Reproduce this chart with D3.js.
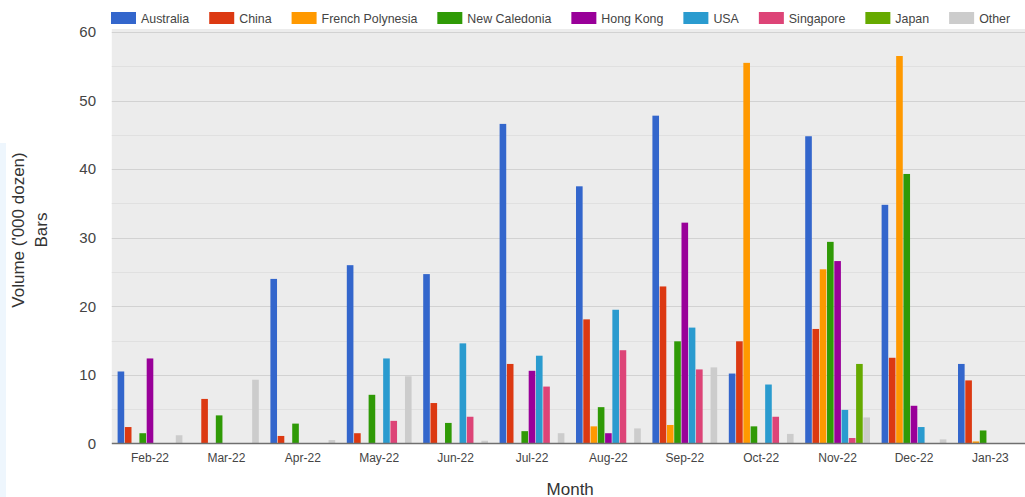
<!DOCTYPE html>
<html>
<head>
<meta charset="utf-8">
<script src="https://cdn.jsdelivr.net/npm/d3@7"></script>
<style>
  html, body { margin: 0; padding: 0; background: #ffffff; }
  svg { display: block; font-family: "Liberation Sans", Arial, sans-serif; }
</style>
</head>
<body>
<svg id="chart" width="1025" height="497"></svg>
<script>
// Monthly export volume by destination ('000 dozen)
const months = ["Feb-22", "Mar-22", "Apr-22", "May-22", "Jun-22", "Jul-22",
                "Aug-22", "Sep-22", "Oct-22", "Nov-22", "Dec-22", "Jan-23"];

const seriesNames = ["Australia", "China", "French Polynesia", "New Caledonia",
                     "Hong Kong", "USA", "Singapore", "Japan", "Other"];

const seriesColors = ["#3366cc", "#dc3912", "#ff9900", "#2f9a06",
                      "#990099", "#2a9bcf", "#dd4477", "#66aa00", "#cccccc"];

const australia      = [10.5, 0,   24.0, 26.0, 24.7, 46.6, 37.5, 47.8, 10.2, 44.8, 34.8, 11.6];
const china          = [2.4,  6.5, 1.1,  1.5,  5.9,  11.6, 18.1, 22.9, 14.9, 16.7, 12.5, 9.2];
const frenchPolynesia= [0,    0,   0,    0,    0,    0,    2.5,  2.7,  55.5, 25.4, 56.5, 0.3];
const newCaledonia   = [1.5,  4.1, 2.9,  7.1,  3.0,  1.8,  5.3,  14.9, 2.5,  29.4, 39.3, 1.9];
const hongKong       = [12.4, 0,   0,    0,    0,    10.6, 1.5,  32.2, 0,    26.6, 5.5,  0];
const usa            = [0,    0,   0,    12.4, 14.6, 12.8, 19.5, 16.9, 8.6,  4.9,  2.4,  0];
const singapore      = [0,    0,   0,    3.3,  3.9,  8.3,  13.6, 10.8, 3.9,  0.8,  0,    0];
const japan          = [0,    0,   0,    0,    0,    0,    0,    0,    0,    11.6, 0,    0];
const other          = [1.2,  9.3, 0.5,  9.8,  0.4,  1.5,  2.2,  11.1, 1.4,  3.8,  0.6,  0];

const yTicks = [0, 10, 20, 30, 40, 50, 60];
const yMinorTicks = [5, 15, 25, 35, 45, 55];

const seriesValues = [australia, china, frenchPolynesia, newCaledonia,
                      hongKong, usa, singapore, japan, other];

const svg = d3.select("#chart");

// plot frame
const plotLeft = 111.8, plotRight = 1028.6, plotTop = 29, plotBottom = 443.5;

// faint side panel on the far left
svg.append("rect")
  .attr("x", 0).attr("y", 143).attr("width", 6).attr("height", 354)
  .attr("fill", "#eef6fd");

const x0 = d3.scaleBand()
  .domain(months)
  .range([plotLeft, plotRight])
  .paddingInner(0.135)
  .paddingOuter(0.0675);

const x1 = d3.scaleBand()
  .domain(seriesNames)
  .range([0, x0.bandwidth()])
  .padding(0.09);

const y = d3.scaleLinear()
  .domain([0, 60])
  .range([plotBottom, 32]);

const color = d3.scaleOrdinal().domain(seriesNames).range(seriesColors);

// background
svg.append("rect")
  .attr("x", plotLeft).attr("y", plotTop)
  .attr("width", plotRight - plotLeft).attr("height", plotBottom - plotTop)
  .attr("fill", "#ececec");

// gridlines
svg.append("g").selectAll("line").data(yMinorTicks).join("line")
  .attr("x1", plotLeft).attr("x2", plotRight)
  .attr("y1", d => Math.round(y(d)) + 0.5).attr("y2", d => Math.round(y(d)) + 0.5)
  .attr("stroke", "#e0e0e0").attr("stroke-width", 1);

svg.append("g").selectAll("line").data(yTicks.filter(d => d > 0)).join("line")
  .attr("x1", plotLeft).attr("x2", plotRight)
  .attr("y1", d => Math.round(y(d)) + 0.5).attr("y2", d => Math.round(y(d)) + 0.5)
  .attr("stroke", "#d2d2d2").attr("stroke-width", 1);

// bars
const rows = months.map((m, i) => ({
  month: m,
  values: seriesNames.map((s, j) => ({ series: s, value: seriesValues[j][i] }))
}));

const groups = svg.append("g").selectAll("g").data(rows).join("g")
  .attr("transform", d => `translate(${x0(d.month)},0)`);

groups.selectAll("rect")
  .data(d => d.values.filter(v => v.value > 0))
  .join("rect")
  .attr("x", d => x1(d.series))
  .attr("width", x1.bandwidth())
  .attr("y", d => y(d.value))
  .attr("height", d => y(0) - y(d.value))
  .attr("fill", d => color(d.series));

// baseline
svg.append("line")
  .attr("x1", plotLeft).attr("x2", plotRight)
  .attr("y1", y(0)).attr("y2", y(0))
  .attr("stroke", "#6f6f6f").attr("stroke-width", 1.6);

// y axis labels
const yAxis = d3.axisLeft(y).tickValues(yTicks).tickSize(0).tickPadding(0);
const yg = svg.append("g").attr("transform", `translate(96,0)`).call(yAxis);
yg.select(".domain").remove();
yg.selectAll("text")
  .attr("font-size", 15).attr("fill", "#444").attr("font-family", "Liberation Sans, Arial, sans-serif");

// x axis labels
const xAxis = d3.axisBottom(x0).tickSize(0).tickPadding(0);
const xg = svg.append("g").attr("transform", `translate(0,${plotBottom})`).call(xAxis);
xg.select(".domain").remove();
xg.selectAll("text")
  .attr("dy", 0).attr("y", 18.5)
  .attr("font-size", 12).attr("fill", "#444").attr("font-family", "Liberation Sans, Arial, sans-serif");

// axis titles
svg.append("text")
  .attr("x", (plotLeft + plotRight) / 2).attr("y", 494.5)
  .attr("text-anchor", "middle")
  .attr("font-size", 17).attr("fill", "#333")
  .text("Month");

const yTitle = svg.append("text")
  .attr("transform", "translate(24,230) rotate(-90)")
  .attr("text-anchor", "middle")
  .attr("font-size", 17).attr("fill", "#333");
yTitle.append("tspan").attr("x", 0).attr("y", 0).text("Volume ('000 dozen)");
yTitle.append("tspan").attr("x", 0).attr("y", 23).text("Bars");

// legend
const legend = svg.append("g").attr("transform", "translate(111,0)");
let lx = 0;
seriesNames.forEach((name, i) => {
  const item = legend.append("g").attr("transform", `translate(${lx},0)`);
  item.append("rect")
    .attr("x", 0).attr("y", 12).attr("width", 25).attr("height", 12)
    .attr("fill", color(name));
  const t = item.append("text")
    .attr("x", 30).attr("y", 22.8)
    .attr("font-size", 12.4).attr("fill", "#444")
    .text(name);
  lx += 30 + t.node().getComputedTextLength() + 20;
});
</script>
</body>
</html>
